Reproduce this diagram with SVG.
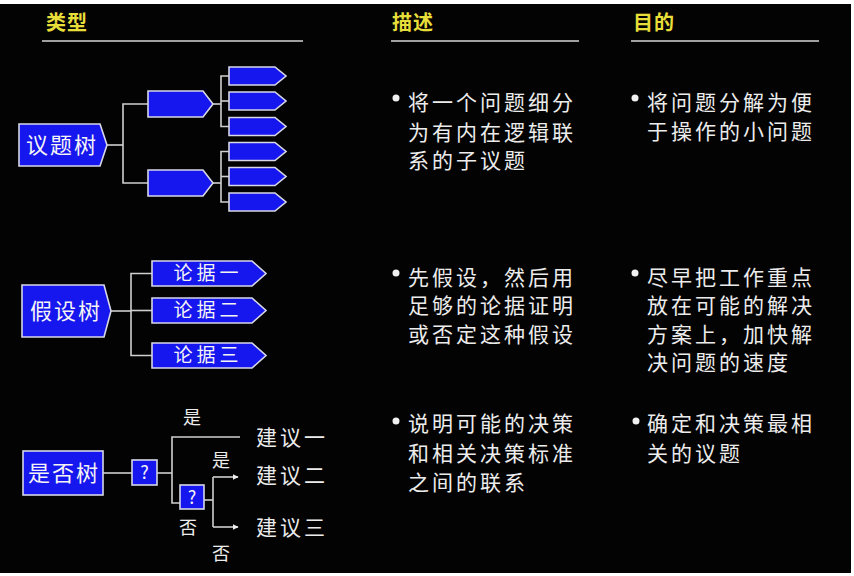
<svg xmlns="http://www.w3.org/2000/svg" width="854" height="576" viewBox="0 0 854 576">
<defs>
<style>
.bg{fill:#030303}
.hd{font-family:"Noto Sans CJK SC","Noto Sans",sans-serif;font-size:20px;font-weight:bold;fill:#e8de3a;letter-spacing:1px}
.ul{stroke:#a0a0a0;stroke-width:2}
.nd{fill:#1616ee;stroke:#d8d8e8;stroke-width:1.6}
.nt{font-family:"Noto Sans CJK SC","Noto Sans",sans-serif;fill:#f4f4f4;text-anchor:middle}
.big{font-size:22px;letter-spacing:2px}
.mid{font-size:19px;letter-spacing:4px}
.cn{stroke:#d0d0d0;stroke-width:1.6;fill:none}
.bt{font-family:"Noto Sans CJK SC","Noto Sans",sans-serif;font-size:21px;fill:#ececec;letter-spacing:3px}
.lb{font-family:"Noto Sans CJK SC","Noto Sans",sans-serif;font-size:18px;fill:#ececec;text-anchor:middle}
.dot{fill:#f0f0f0}
</style>
<marker id="ah" viewBox="0 0 10 10" refX="9" refY="5" markerWidth="6" markerHeight="6" orient="auto" markerUnits="userSpaceOnUse">
<path d="M0,0 L10,5 L0,10 Z" fill="#f0f0f0"/>
</marker>
</defs>
<rect x="0" y="0" width="854" height="576" fill="#ffffff"/>
<rect class="bg" x="0" y="4" width="851" height="569"/>

<g id="headers">
<text class="hd" x="46" y="30">类型</text>
<line class="ul" x1="42" y1="41" x2="303" y2="41"/>
<text class="hd" x="392" y="30">描述</text>
<line class="ul" x1="391" y1="41" x2="579" y2="41"/>
<text class="hd" x="633" y="30">目的</text>
<line class="ul" x1="631" y1="41" x2="819" y2="41"/>
</g>

<g id="connectors">
<!-- issue tree -->
<polyline class="cn" points="107,145 123,145"/>
<polyline class="cn" points="148,104 123,104 123,183 148,183"/>
<polyline class="cn" points="213,104 221,104"/>
<polyline class="cn" points="229,76 221,76 221,126.5 229,126.5"/>
<line class="cn" x1="221" y1="101" x2="229" y2="101"/>
<polyline class="cn" points="213,183 221,183"/>
<polyline class="cn" points="229,151.5 221,151.5 221,202 229,202"/>
<line class="cn" x1="221" y1="176.5" x2="229" y2="176.5"/>
<!-- hypothesis tree -->
<polyline class="cn" points="111,311 131,311"/>
<polyline class="cn" points="152,273.5 131,273.5 131,355.5 152,355.5"/>
<line class="cn" x1="131" y1="310.5" x2="152" y2="310.5"/>
<!-- yes/no tree -->
<line class="cn" x1="103" y1="473" x2="132" y2="473"/>
<line class="cn" x1="157" y1="473" x2="172" y2="473"/>
<polyline class="cn" points="240,437 172,437 172,503 180,503"/>
<line class="cn" x1="204" y1="500" x2="213" y2="500"/>
<polyline class="cn" points="213,477 213,527"/>
<line class="cn" x1="213" y1="477" x2="238" y2="477" marker-end="url(#ah)"/>
<line class="cn" x1="213" y1="527" x2="238" y2="527" marker-end="url(#ah)"/>
</g>

<g id="issue-tree-root">
<path class="nd" d="M19,124 H100 L107,145 L100,166 H19 Z"/>
<text class="nt big" x="62" y="153">议题树</text>
</g>
<g id="issue-l2-a"><path class="nd" d="M148,91 H203 L213,104 L203,117 H148 Z"/></g>
<g id="issue-l2-b"><path class="nd" d="M148,170 H203 L213,183 L203,196 H148 Z"/></g>
<g id="issue-l3-1"><path class="nd" d="M229,67 H275 L286,76 L275,85 H229 Z"/></g>
<g id="issue-l3-2"><path class="nd" d="M229,92 H275 L286,101 L275,110 H229 Z"/></g>
<g id="issue-l3-3"><path class="nd" d="M229,117.5 H275 L286,126.5 L275,135.5 H229 Z"/></g>
<g id="issue-l3-4"><path class="nd" d="M229,142.5 H275 L286,151.5 L275,160.5 H229 Z"/></g>
<g id="issue-l3-5"><path class="nd" d="M229,167.5 H275 L286,176.5 L275,185.5 H229 Z"/></g>
<g id="issue-l3-6"><path class="nd" d="M229,193 H275 L286,202 L275,211 H229 Z"/></g>

<g id="hypo-root">
<path class="nd" d="M22,285 H104 L111,311 L104,337 H22 Z"/>
<text class="nt big" x="66" y="319">假设树</text>
</g>
<g id="hypo-arg1">
<path class="nd" d="M152,261 H252 L266,273.5 L252,286 H152 Z"/>
<text class="nt mid" x="208" y="280">论据一</text>
</g>
<g id="hypo-arg2">
<path class="nd" d="M152,298 H252 L266,310.5 L252,323 H152 Z"/>
<text class="nt mid" x="208" y="317">论据二</text>
</g>
<g id="hypo-arg3">
<path class="nd" d="M152,343 H252 L266,355.5 L252,368 H152 Z"/>
<text class="nt mid" x="208" y="362">论据三</text>
</g>

<g id="yn-root">
<rect class="nd" x="23" y="451" width="80" height="44"/>
<text class="nt big" x="64" y="481">是否树</text>
</g>
<g id="yn-q1">
<rect class="nd" x="132" y="460" width="25" height="25"/>
<text class="nt" x="144.5" y="479" font-size="18">?</text>
</g>
<g id="yn-q2">
<rect class="nd" x="180" y="485" width="24" height="24"/>
<text class="nt" x="192" y="503.5" font-size="18">?</text>
</g>
<g id="yn-labels">
<text class="lb" x="192" y="424">是</text>
<text class="lb" x="221" y="467">是</text>
<text class="lb" x="188" y="534">否</text>
<text class="lb" x="221" y="560">否</text>
</g>
<g id="yn-outcomes">
<text class="bt" x="256" y="445" font-size="22">建议一</text>
<text class="bt" x="256" y="483" font-size="22">建议二</text>
<text class="bt" x="256" y="535" font-size="22">建议三</text>
</g>

<g id="desc-issue">
<circle class="dot" cx="396" cy="98" r="3.5"/>
<text class="bt" x="408" y="110">将一个问题细分</text>
<text class="bt" x="408" y="140">为有内在逻辑联</text>
<text class="bt" x="408" y="168">系的子议题</text>
</g>
<g id="goal-issue">
<circle class="dot" cx="635" cy="98" r="3.5"/>
<text class="bt" x="647" y="110">将问题分解为便</text>
<text class="bt" x="647" y="139">于操作的小问题</text>
</g>
<g id="desc-hypo">
<circle class="dot" cx="396" cy="273" r="3.5"/>
<text class="bt" x="408" y="285">先假设，然后用</text>
<text class="bt" x="408" y="313">足够的论据证明</text>
<text class="bt" x="408" y="342">或否定这种假设</text>
</g>
<g id="goal-hypo">
<circle class="dot" cx="635" cy="273" r="3.5"/>
<text class="bt" x="647" y="285">尽早把工作重点</text>
<text class="bt" x="647" y="313">放在可能的解决</text>
<text class="bt" x="647" y="342">方案上，加快解</text>
<text class="bt" x="647" y="370">决问题的速度</text>
</g>
<g id="desc-yn">
<circle class="dot" cx="396" cy="421" r="3.5"/>
<text class="bt" x="408" y="431">说明可能的决策</text>
<text class="bt" x="408" y="461">和相关决策标准</text>
<text class="bt" x="408" y="490">之间的联系</text>
</g>
<g id="goal-yn">
<circle class="dot" cx="636" cy="421" r="3.5"/>
<text class="bt" x="647" y="431">确定和决策最相</text>
<text class="bt" x="647" y="461">关的议题</text>
</g>
</svg>
